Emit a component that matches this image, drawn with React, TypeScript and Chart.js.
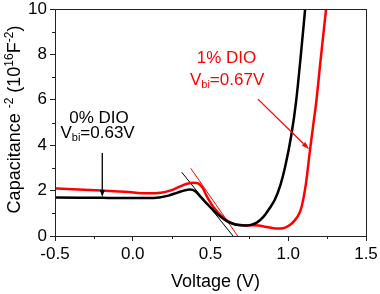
import React, { useEffect, useRef } from 'react';
import { Chart, registerables } from 'chart.js';

Chart.register(...registerables);

// 0% DIO (black)
const blackV = [-0.5, -0.35, -0.2, -0.05, 0.1, 0.17, 0.23, 0.27, 0.31, 0.37, 0.4, 0.44, 0.48, 0.52, 0.56, 0.6, 0.64, 0.68, 0.72, 0.76, 0.8, 0.84, 0.88, 0.915, 0.95, 0.98, 1.02, 1.05, 1.08, 1.11];
const blackC = [1.7, 1.69, 1.68, 1.67, 1.67, 1.7, 1.78, 1.87, 1.96, 2.05, 1.98, 1.7, 1.4, 1.12, 0.88, 0.68, 0.55, 0.48, 0.46, 0.49, 0.6, 0.84, 1.22, 1.62, 2.25, 3.05, 4.45, 5.9, 7.9, 10.1];
// 1% DIO (red)
const redV = [-0.5, -0.35, -0.2, -0.05, 0.1, 0.18, 0.24, 0.3, 0.35, 0.39, 0.42, 0.45, 0.48, 0.52, 0.56, 0.61, 0.65, 0.69, 0.73, 0.77, 0.81, 0.85, 0.89, 0.93, 0.968, 1.01, 1.043, 1.07, 1.086, 1.114, 1.14, 1.16, 1.18, 1.208, 1.245];
const redC = [2.1, 2.05, 2.0, 1.95, 1.88, 1.91, 2.0, 2.17, 2.3, 2.35, 2.32, 2.12, 1.7, 1.27, 0.95, 0.66, 0.53, 0.48, 0.46, 0.47, 0.46, 0.41, 0.36, 0.33, 0.34, 0.48, 0.7, 0.98, 1.29, 2.32, 3.79, 4.85, 5.9, 7.75, 10.1];
// tangent (extrapolation) lines
const blackTanV = [0.315, 0.645];
const blackTanC = [2.81, 0];
const redTanV = [0.373, 0.675];
const redTanC = [2.98, 0];

const xMin = -0.5, xMax = 1.5, xStep = 0.5, xMinorStep = 0.25;
const yMin = 0, yMax = 10, yStep = 2, yMinorStep = 1;

const FONT = '"Liberation Sans", Arial, sans-serif';
const RED = '#ff0000';
const AXIS = '#222222';

const pts = (xs: number[], ys: number[]) => xs.map((x, i) => ({ x, y: ys[i] }));

type Seg = { t: string; size: number; dy: number };

function drawRich(ctx: CanvasRenderingContext2D, segs: Seg[], x: number, y: number, align: 'left' | 'center' = 'left') {
  let total = 0;
  for (const s of segs) {
    ctx.font = `${s.size}px ${FONT}`;
    total += ctx.measureText(s.t).width;
  }
  let cx = align === 'center' ? x - total / 2 : x;
  ctx.textAlign = 'left';
  for (const s of segs) {
    ctx.font = `${s.size}px ${FONT}`;
    ctx.fillText(s.t, cx, y + s.dy);
    cx += ctx.measureText(s.t).width;
  }
}

function arrow(ctx: CanvasRenderingContext2D, x1: number, y1: number, x2: number, y2: number, color: string, lw: number, hl: number, hw: number) {
  const a = Math.atan2(y2 - y1, x2 - x1);
  const bx = x2 - hl * Math.cos(a), by = y2 - hl * Math.sin(a);
  ctx.save();
  ctx.strokeStyle = color;
  ctx.fillStyle = color;
  ctx.lineWidth = lw;
  ctx.beginPath();
  ctx.moveTo(x1, y1);
  ctx.lineTo(bx, by);
  ctx.stroke();
  ctx.beginPath();
  ctx.moveTo(x2, y2);
  ctx.lineTo(bx + (hw / 2) * Math.sin(a), by - (hw / 2) * Math.cos(a));
  ctx.lineTo(bx - (hw / 2) * Math.sin(a), by + (hw / 2) * Math.cos(a));
  ctx.closePath();
  ctx.fill();
  ctx.restore();
}

const decor = {
  id: 'decor',
  afterDraw(chart: any) {
    const ctx: CanvasRenderingContext2D = chart.ctx;
    const { left, right, top, bottom } = chart.chartArea;
    const xs = chart.scales.x, ys = chart.scales.y;
    const X = (v: number) => xs.getPixelForValue(v);
    const Y = (v: number) => ys.getPixelForValue(v);
    ctx.save();
    // frame
    ctx.strokeStyle = AXIS;
    ctx.lineWidth = 1;
    ctx.strokeRect(Math.round(left) + 0.5, Math.round(top) + 0.5, Math.round(right - left), Math.round(bottom - top));
    // minor ticks
    ctx.beginPath();
    for (let v = xMin + xMinorStep; v < xMax; v += xStep) {
      const px = Math.round(X(v)) + 0.5;
      ctx.moveTo(px, Math.round(bottom));
      ctx.lineTo(px, Math.round(bottom) + 3);
    }
    for (let v = yMin + yMinorStep; v < yMax; v += yStep) {
      const py = Math.round(Y(v)) + 0.5;
      ctx.moveTo(Math.round(left), py);
      ctx.lineTo(Math.round(left) - 3, py);
    }
    ctx.stroke();

    // annotations
    ctx.textBaseline = 'middle';
    ctx.fillStyle = '#000';
    drawRich(ctx, [{ t: '0% DIO', size: 17, dy: 0 }], X(-0.217), Y(5.18), 'center');
    drawRich(ctx, [
      { t: 'V', size: 17, dy: 0 },
      { t: 'bi', size: 11, dy: 5 },
      { t: '=0.63V', size: 17, dy: 0 },
    ], X(-0.465), Y(4.52));
    arrow(ctx, X(-0.196), Y(3.66), X(-0.196), Y(1.72), '#000', 1.3, 7, 5);

    ctx.fillStyle = RED;
    drawRich(ctx, [{ t: '1% DIO', size: 17, dy: 0 }], X(0.603), Y(7.82), 'center');
    drawRich(ctx, [
      { t: 'V', size: 17, dy: 0 },
      { t: 'bi', size: 11, dy: 5 },
      { t: '=0.67V', size: 17, dy: 0 },
    ], X(0.368), Y(6.87));
    arrow(ctx, X(0.805), Y(6.03), X(1.135), Y(3.82), RED, 1.3, 8, 5);

    // axis titles
    ctx.fillStyle = '#000';
    ctx.textBaseline = 'alphabetic';
    drawRich(ctx, [{ t: 'Voltage (V)', size: 18, dy: 0 }], (left + right) / 2 + 5, bottom + 51, 'center');
    ctx.save();
    ctx.translate(20, (top + bottom) / 2 - 3);
    ctx.rotate(-Math.PI / 2);
    drawRich(ctx, [
      { t: 'Capacitance ', size: 18, dy: 0 },
      { t: '-2', size: 12, dy: -7 },
      { t: ' (10', size: 18, dy: 0 },
      { t: '16', size: 12, dy: -7 },
      { t: 'F', size: 18, dy: 0 },
      { t: '-2', size: 12, dy: -7 },
      { t: ')', size: 18, dy: 0 },
    ], 0, 0, 'center');
    ctx.restore();
    ctx.restore();
  },
};

export default function App() {
  const ref = useRef<HTMLCanvasElement>(null);
  useEffect(() => {
    if (!ref.current) return;
    const chart = new Chart(ref.current, {
      type: 'line',
      data: {
        datasets: [
          { data: pts(blackV, blackC), borderColor: '#000', borderWidth: 2.5, pointRadius: 0, cubicInterpolationMode: 'monotone' },
          { data: pts(redV, redC), borderColor: RED, borderWidth: 2.5, pointRadius: 0, cubicInterpolationMode: 'monotone' },
          { data: pts(blackTanV, blackTanC), borderColor: '#000', borderWidth: 1, pointRadius: 0, tension: 0 },
          { data: pts(redTanV, redTanC), borderColor: RED, borderWidth: 1, pointRadius: 0, tension: 0 },
        ],
      },
      options: {
        animation: false,
        responsive: false,
        events: [],
        layout: { padding: { top: 9, right: 14, left: 0, bottom: 0 } },
        plugins: { legend: { display: false }, tooltip: { enabled: false }, title: { display: false } },
        scales: {
          x: {
            type: 'linear',
            min: xMin,
            max: xMax,
            ticks: {
              stepSize: xStep,
              color: '#000',
              font: { family: FONT, size: 17 },
              padding: 3,
              maxRotation: 0,
              callback: (v: any) => Number(v).toFixed(1),
            },
            grid: { drawOnChartArea: false, drawTicks: true, tickLength: 5, color: AXIS },
            border: { display: true, color: AXIS },
            afterFit: (s: any) => { s.height = 58; s.paddingLeft = 0; s.paddingRight = 0; s.paddingTop = 0; s.paddingBottom = 0; },
          },
          y: {
            type: 'linear',
            min: yMin,
            max: yMax,
            ticks: {
              stepSize: yStep,
              color: '#000',
              font: { family: FONT, size: 17 },
              padding: 3,
            },
            grid: { drawOnChartArea: false, drawTicks: true, tickLength: 5, color: AXIS },
            border: { display: true, color: AXIS },
            afterFit: (s: any) => { s.width = 55; s.paddingLeft = 0; s.paddingRight = 0; s.paddingTop = 0; s.paddingBottom = 0; },
          },
        },
      } as any,
      plugins: [decor],
    });
    return () => chart.destroy();
  }, []);
  return (
    <div style={{ position: 'absolute', left: 0, top: 0, width: 380, height: 294, background: '#fff' }}>
      <canvas ref={ref} width={380} height={294} style={{ width: 380, height: 294, display: 'block' }} />
    </div>
  );
}
